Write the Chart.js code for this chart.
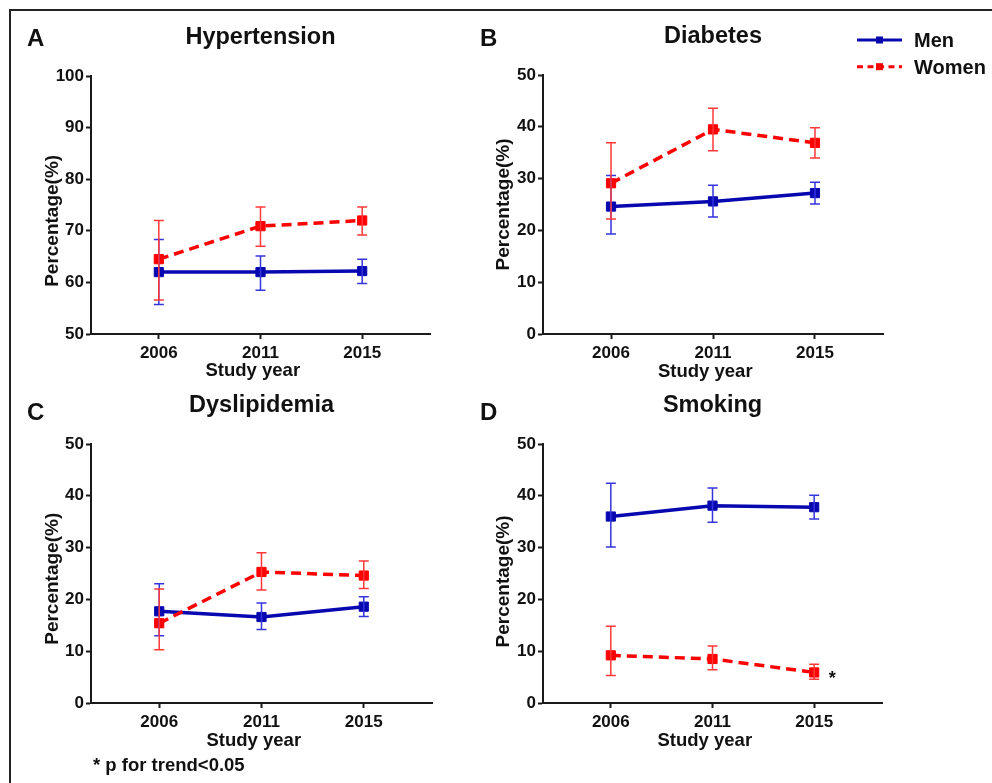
<!DOCTYPE html>
<html>
<head>
<meta charset="utf-8">
<script src="https://cdn.jsdelivr.net/npm/chart.js@4.4.1/dist/chart.umd.min.js"></script>
<style>
  html, body { margin: 0; padding: 0; background: #fff; }
  #wrap { position: relative; width: 992px; height: 783px; overflow: hidden; background: #fff;
          font-family: "Liberation Sans", Arial, sans-serif; font-weight: bold; color: #111; }
  #frame { position: absolute; left: 9px; top: 9px; width: 2000px; height: 2000px;
           border-left: 2px solid #222; border-top: 2px solid #222; }
  canvas { position: absolute; }
  .letter { position: absolute; font-size: 24px; line-height: 24px; }
  #note { position: absolute; left: 93px; top: 756px; font-size: 18.5px; line-height: 18.5px; white-space: nowrap; }
</style>
</head>
<body>
<div id="wrap">
  <div id="frame"></div>
  <canvas id="cA" width="478" height="378" style="left:12px;top:12px"></canvas>
  <canvas id="cB" width="502" height="378" style="left:490px;top:12px"></canvas>
  <canvas id="cC" width="478" height="378" style="left:12px;top:390px"></canvas>
  <canvas id="cD" width="502" height="378" style="left:490px;top:390px"></canvas>
  <div class="letter" style="left:27px;top:26px">A</div>
  <div class="letter" style="left:480px;top:26px">B</div>
  <div class="letter" style="left:27px;top:400px">C</div>
  <div class="letter" style="left:480px;top:400px">D</div>
  <div id="note">* p for trend&lt;0.05</div>
</div>
<script>
// ---------- data ----------
const years = ['2006', '2011', '2015'];
const seriesNames = ['Men', 'Women'];

// Hypertension
const htnMen = [62.0, 62.0, 62.2];
const htnMenLow = [55.7, 58.5, 59.8];
const htnMenHigh = [68.3, 65.1, 64.5];
const htnWomen = [64.5, 70.9, 72.0];
const htnWomenLow = [56.6, 67.0, 69.2];
const htnWomenHigh = [72.0, 74.6, 74.6];

// Diabetes
const dmMen = [24.6, 25.6, 27.2];
const dmMenLow = [19.3, 22.6, 25.1];
const dmMenHigh = [30.6, 28.7, 29.3];
const dmWomen = [29.1, 39.5, 36.9];
const dmWomenLow = [22.2, 35.4, 34.0];
const dmWomenHigh = [36.9, 43.6, 39.8];

// Dyslipidemia
const dlMen = [17.7, 16.6, 18.6];
const dlMenLow = [13.0, 14.2, 16.7];
const dlMenHigh = [23.0, 19.3, 20.5];
const dlWomen = [15.4, 25.3, 24.6];
const dlWomenLow = [10.3, 21.8, 22.1];
const dlWomenHigh = [22.0, 29.0, 27.4];

// Smoking
const smMen = [36.0, 38.1, 37.8];
const smMenLow = [30.1, 34.9, 35.5];
const smMenHigh = [42.4, 41.5, 40.1];
const smWomen = [9.2, 8.5, 5.9];
const smWomenLow = [5.3, 6.4, 4.6];
const smWomenHigh = [14.8, 11.0, 7.5];

const htnTicks = [50, 100, 10];
const otherTicks = [0, 50, 10];

// ---------- styles ----------
const FONT = '"Liberation Sans", Arial, sans-serif';
const MEN_COLOR = '#0808B0';
const MEN_ERR = '#3535DD';
const WOMEN_COLOR = '#FF0000';
const WOMEN_ERR = '#FF3838';
const AXIS_COLOR = '#1a1a1a';

const errorBars = {
  id: 'errorBars',
  afterDatasetsDraw(chart) {
    const { ctx, scales: { x, y } } = chart;
    chart.data.datasets.forEach(ds => {
      ctx.save();
      ctx.strokeStyle = ds.errColor;
      ctx.lineWidth = 1.5;
      ds.errLow.forEach((lo, i) => {
        const px = x.getPixelForValue(i);
        const yl = y.getPixelForValue(lo);
        const yh = y.getPixelForValue(ds.errHigh[i]);
        ctx.beginPath();
        ctx.moveTo(px, yl); ctx.lineTo(px, yh);
        ctx.moveTo(px - 5, yl); ctx.lineTo(px + 5, yl);
        ctx.moveTo(px - 5, yh); ctx.lineTo(px + 5, yh);
        ctx.stroke();
      });
      ctx.restore();
    });
  }
};

const sideLegend = {
  id: 'sideLegend',
  afterDraw(chart, args, opts) {
    if (!opts || !opts.show) return;
    const ctx = chart.ctx;
    chart.data.datasets.forEach((ds, i) => {
      const y = opts.y0 + i * opts.dy;
      ctx.save();
      ctx.strokeStyle = ds.borderColor;
      ctx.lineWidth = 3;
      ctx.setLineDash(ds.borderDash && ds.borderDash.length ? [6, 4.5] : []);
      ctx.beginPath();
      ctx.moveTo(opts.x0, y); ctx.lineTo(opts.x1, y);
      ctx.stroke();
      ctx.setLineDash([]);
      ctx.fillStyle = ds.borderColor;
      const mx = (opts.x0 + opts.x1) / 2;
      ctx.fillRect(mx - 3.5, y - 3.5, 7, 7);
      ctx.fillStyle = '#111';
      ctx.font = 'bold 20px ' + FONT;
      ctx.textBaseline = 'alphabetic';
      ctx.textAlign = 'left';
      ctx.fillText(ds.label, opts.tx, y + 7.2);
      ctx.restore();
    });
  }
};

const starNote = {
  id: 'starNote',
  afterDraw(chart, args, opts) {
    if (!opts || !opts.show) return;
    const { ctx, scales: { x, y } } = chart;
    const ds = chart.data.datasets[opts.dataset];
    const i = opts.index;
    const px = x.getPixelForValue(i) + 18;
    const py = y.getPixelForValue(ds.data[i].y) + 12;
    ctx.save();
    ctx.fillStyle = '#111';
    ctx.font = 'bold 18px ' + FONT;
    ctx.textAlign = 'center';
    ctx.textBaseline = 'alphabetic';
    ctx.fillText('*', px, py);
    ctx.restore();
  }
};

function pts(arr) { return arr.map((v, i) => ({ x: i, y: v })); }

function makePanel(id, p) {
  const W = p.W, H = p.H;
  const a = p.area;
  return new Chart(document.getElementById(id), {
    type: 'line',
    data: {
      datasets: [
        {
          label: seriesNames[0], data: pts(p.men), errLow: p.menLow, errHigh: p.menHigh, errColor: MEN_ERR,
          borderColor: MEN_COLOR, backgroundColor: MEN_COLOR, borderWidth: 3.5,
          pointStyle: 'rect', pointRadius: 6.5, pointBackgroundColor: MEN_COLOR, pointBorderColor: MEN_COLOR,
          pointBorderWidth: 1, tension: 0, order: 1
        },
        {
          label: seriesNames[1], data: pts(p.women), errLow: p.womenLow, errHigh: p.womenHigh, errColor: WOMEN_ERR,
          borderColor: WOMEN_COLOR, backgroundColor: WOMEN_COLOR, borderWidth: 3.5, borderDash: [10, 6],
          pointStyle: 'rect', pointRadius: 6.5, pointBackgroundColor: WOMEN_COLOR, pointBorderColor: WOMEN_COLOR,
          pointBorderWidth: 1, tension: 0, order: 0
        }
      ]
    },
    options: {
      responsive: false,
      animation: false,
      devicePixelRatio: 1,
      layout: { padding: { left: 0, right: W - a.r, top: 0, bottom: 0 } },
      plugins: {
        legend: { display: false },
        tooltip: { enabled: false },
        title: {
          display: true, text: p.title, color: '#111', fullSize: false,
          font: { family: FONT, size: 23.5, weight: 'bold', lineHeight: 1.2 },
          padding: { top: p.tTop, bottom: a.t - p.tTop - 23.5 * 1.2 }
        },
        sideLegend: p.legend || { show: false },
        starNote: p.star || { show: false }
      },
      scales: {
        x: {
          type: 'linear', min: -0.667, max: 2.667,
          afterBuildTicks: (s) => { s.ticks = years.map((_, i) => ({ value: i })); },
          afterFit: (s) => { s.height = H - a.b; },
          ticks: {
            callback: (v) => years[v], color: '#111', padding: 4, maxRotation: 0,
            font: { family: FONT, size: 17, weight: 'bold' }
          },
          grid: { drawOnChartArea: false, drawTicks: true, tickLength: 5, tickWidth: 2, tickColor: AXIS_COLOR },
          border: { display: true, color: AXIS_COLOR, width: 2 },
          title: {
            display: true, text: 'Study year   ', color: '#111',
            font: { family: FONT, size: 18.5, weight: 'bold', lineHeight: 1.2 },
            padding: { top: 0, bottom: p.xtPad }
          }
        },
        y: {
          type: 'linear', min: p.yt[0], max: p.yt[1],
          afterFit: (s) => { s.width = a.l; },
          ticks: {
            stepSize: p.yt[2], color: '#111', padding: 2,
            font: { family: FONT, size: 17, weight: 'bold' }
          },
          grid: { drawOnChartArea: false, drawTicks: true, tickLength: 5, tickWidth: 2, tickColor: AXIS_COLOR },
          border: { display: true, color: AXIS_COLOR, width: 2 },
          title: {
            display: true, text: 'Percentage(%)' + p.ySpaces, color: '#111',
            font: { family: FONT, size: 19, weight: 'bold', lineHeight: 1.2 },
            padding: { top: p.ytPad, bottom: 0 }
          }
        }
      }
    },
    plugins: [errorBars, sideLegend, starNote]
  });
}

makePanel('cA', {
  W: 478, H: 378, area: { l: 79, r: 418, t: 64, b: 322 }, title: 'Hypertension', tTop: 11.2,
  yt: htnTicks, men: htnMen, menLow: htnMenLow, menHigh: htnMenHigh,
  women: htnWomen, womenLow: htnWomenLow, womenHigh: htnWomenHigh,
  xtPad: 8, ytPad: 29.1, ySpaces: '      '
});
makePanel('cB', {
  W: 502, H: 378, area: { l: 53, r: 393, t: 63, b: 322 }, title: 'Diabetes', tTop: 10.5,
  yt: otherTicks, men: dmMen, menLow: dmMenLow, menHigh: dmMenHigh,
  women: dmWomen, womenLow: dmWomenLow, womenHigh: dmWomenHigh,
  xtPad: 7, ytPad: 1.9, ySpaces: '',
  legend: { show: true, x0: 367, x1: 412, y0: 28, dy: 26.7, tx: 424 }
});
makePanel('cC', {
  W: 478, H: 378, area: { l: 79, r: 420, t: 54, b: 313 }, title: 'Dyslipidemia', tTop: 1.7,
  yt: otherTicks, men: dlMen, menLow: dlMenLow, menHigh: dlMenHigh,
  women: dlWomen, womenLow: dlWomenLow, womenHigh: dlWomenHigh,
  xtPad: 16, ytPad: 29.1, ySpaces: '  '
});
makePanel('cD', {
  W: 502, H: 378, area: { l: 53, r: 392, t: 54, b: 313 }, title: 'Smoking', tTop: 1.7,
  yt: otherTicks, men: smMen, menLow: smMenLow, menHigh: smMenHigh,
  women: smWomen, womenLow: smWomenLow, womenHigh: smWomenHigh,
  xtPad: 16, ytPad: 2.1, ySpaces: '   ',
  star: { show: true, dataset: 1, index: 2 }
});
</script>
</body>
</html>
